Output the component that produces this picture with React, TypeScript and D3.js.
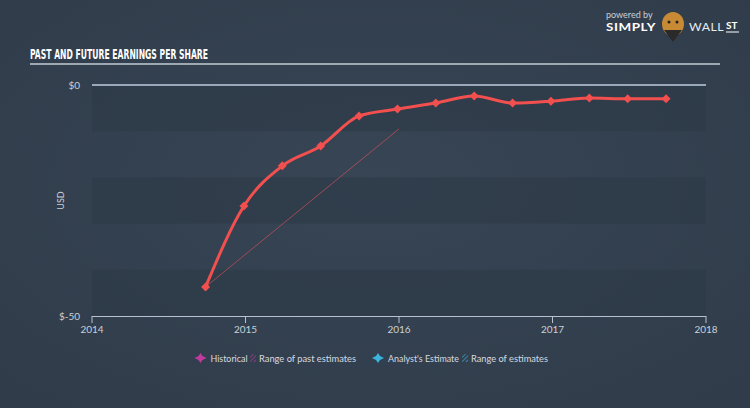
import React from "react";
import * as d3 from "d3";

const W = 750;
const H = 408;

const dates = [2014.74, 2014.99, 2015.24, 2015.49, 2015.74, 2015.99, 2016.24, 2016.49, 2016.74, 2016.99, 2017.24, 2017.49, 2017.74];
const eps = [-43.7, -26.2, -17.5, -13.2, -6.7, -5.2, -3.9, -2.4, -3.9, -3.5, -2.8, -3.0, -3.0];
const pastRangeX = [2014.74, 2016.0];
const pastRangeY = [-43.7, -9.5];
const xTicks = [2014, 2015, 2016, 2017, 2018];
const yTicks = [0, -50];
const yTickLabels = ["$0", "$-50"];

const legendItems = [
  { label: "Historical", kind: "diamond", color: "#c2399f" },
  { label: "Range of past estimates", kind: "hatch", color: "#c2399f" },
  { label: "Analyst's Estimate", kind: "diamond", color: "#3bb5de" },
  { label: "Range of estimates", kind: "hatch", color: "#3bb5de" },
];

export default function App() {
  const x = d3.scaleLinear().domain([2014, 2018]).range([92, 706]);
  const y = d3.scaleLinear().domain([-50, 0]).range([316, 85]);
  const line = d3
    .line<number>()
    .x((_, i) => x(dates[i]))
    .y((d) => y(d))
    .curve(d3.curveMonotoneX);
  const bands = d3.range(5).map((i) => -50 + i * 10);
  const font = "Lato, 'Open Sans', sans-serif";
  const legendX = [200.5, 253, 378, 465];
  const legendTextX = [210.5, 259, 388, 471];
  const legendTextW = [37, 97, 71, 77];

  return (
    <svg width={W} height={H} style={{ position: "absolute", left: 0, top: 0 }}>
      <defs>
        <radialGradient id="bg" cx="50%" cy="45%" r="70%">
          <stop offset="0%" stopColor="#374555" />
          <stop offset="100%" stopColor="#303c4a" />
        </radialGradient>
        <pattern id="hatchP" width="3" height="3" patternUnits="userSpaceOnUse" patternTransform="rotate(45)">
          <line x1="0" y1="0" x2="0" y2="3" stroke="#c2399f" strokeWidth="1.2" />
        </pattern>
        <pattern id="hatchA" width="3" height="3" patternUnits="userSpaceOnUse" patternTransform="rotate(45)">
          <line x1="0" y1="0" x2="0" y2="3" stroke="#3bb5de" strokeWidth="1.2" />
        </pattern>
      </defs>
      <rect width={W} height={H} fill="url(#bg)" />

      {/* logo */}
      <text x={606} y={18} fill="#c9d0d8" fontSize={9} fontFamily={font}>powered by</text>
      <text x={606} y={31} fill="#ffffff" fontSize={12} fontWeight={700} fontFamily={font} letterSpacing={0.5} textLength={50} lengthAdjust="spacingAndGlyphs">SIMPLY</text>
      <ellipse cx={673} cy={24} rx={11} ry={12} fill="#c98a35" />
      <path d="M664,30 L673,42 L682,30 Z" fill="#2a2a2a" />
      <circle cx={669} cy={22} r={1.5} fill="#222" />
      <circle cx={677} cy={22} r={1.5} fill="#222" />
      <text x={689} y={31} fill="#e8ecf0" fontSize={12} fontFamily={font} letterSpacing={0.5} textLength={35} lengthAdjust="spacingAndGlyphs">WALL</text>
      <text x={726} y={29} fill="#ffffff" fontSize={10} fontWeight={700} fontFamily={font}>ST</text>
      <line x1={726} y1={32} x2={739} y2={32} stroke="#ffffff" strokeWidth={1} />

      {/* title */}
      <text
        x={30}
        y={59}
        fill="#ffffff"
        fontSize={14}
        fontWeight={700}
        fontFamily="'DejaVu Sans Condensed', 'Liberation Sans Narrow', sans-serif"
        textLength={178}
        lengthAdjust="spacingAndGlyphs"
      >
        PAST AND FUTURE EARNINGS PER SHARE
      </text>
      <line x1={30} y1={64} x2={720} y2={64} stroke="#c3ccd6" strokeWidth={1.5} />

      {/* bands */}
      {bands.map((b, i) =>
        i % 2 === 0 ? (
          <rect key={b} x={92} y={y(b + 10)} width={614} height={y(b) - y(b + 10)} fill="#2c3846" opacity={0.55} />
        ) : null
      )}

      {/* zero line */}
      <line x1={x(2014)} y1={y(0)} x2={x(2018)} y2={y(0)} stroke="#9aa9ba" strokeWidth={2} />

      {/* y labels */}
      {yTicks.map((t, i) => (
        <text key={t} x={80} y={y(t) + 4} textAnchor="end" fill="#c9d0d8" fontSize={10} fontFamily={font}>
          {yTickLabels[i]}
        </text>
      ))}
      <text
        transform={`translate(64,${(y(0) + y(-50)) / 2}) rotate(-90)`}
        textAnchor="middle"
        fill="#c9d0d8"
        fontSize={9}
        fontFamily={font}
      >
        USD
      </text>

      {/* x axis */}
      <line x1={x(2014)} y1={316.5} x2={x(2018)} y2={316.5} stroke="#b8c2ce" strokeWidth={1} />
      {xTicks.map((t) => (
        <g key={t}>
          <line x1={x(t)} y1={316} x2={x(t)} y2={323} stroke="#b8c2ce" strokeWidth={1} />
          <text x={x(t)} y={333} textAnchor="middle" fill="#c9d0d8" fontSize={10} fontFamily={font}>
            {t}
          </text>
        </g>
      ))}

      {/* past estimates range */}
      <line
        x1={x(pastRangeX[0])}
        y1={y(pastRangeY[0])}
        x2={x(pastRangeX[1])}
        y2={y(pastRangeY[1])}
        stroke="#e0505a"
        strokeWidth={0.8}
        opacity={0.8}
      />

      {/* eps line */}
      <path d={line(eps) || ""} fill="none" stroke="#f24f4f" strokeWidth={3} />
      {eps.map((v, i) => {
        const cx = x(dates[i]);
        const cy = y(v);
        const s = 4.5;
        return (
          <path
            key={i}
            d={`M${cx},${cy - s} L${cx + s},${cy} L${cx},${cy + s} L${cx - s},${cy} Z`}
            fill="#f24f4f"
          />
        );
      })}

      {/* legend */}
      {legendItems.map((it, i) => {
        const cx = legendX[i];
        const cy = 358;
        return (
          <g key={it.label}>
            {it.kind === "diamond" ? (
              <path
                d={`M${cx},${cy - 5} L${cx + 2},${cy - 2} L${cx + 6},${cy} L${cx + 2},${cy + 2} L${cx},${cy + 5} L${cx - 2},${cy + 2} L${cx - 6},${cy} L${cx - 2},${cy - 2} Z`}
                fill={it.color}
              />
            ) : (
              <rect x={cx - 3} y={cy - 4} width={6} height={8} fill={i === 1 ? "url(#hatchP)" : "url(#hatchA)"} />
            )}
            <text
              x={legendTextX[i]}
              y={cy + 3.5}
              fill="#d4dae1"
              fontSize={9.5}
              fontFamily={font}
              textLength={legendTextW[i]}
              lengthAdjust="spacingAndGlyphs"
            >
              {it.label}
            </text>
          </g>
        );
      })}
    </svg>
  );
}
